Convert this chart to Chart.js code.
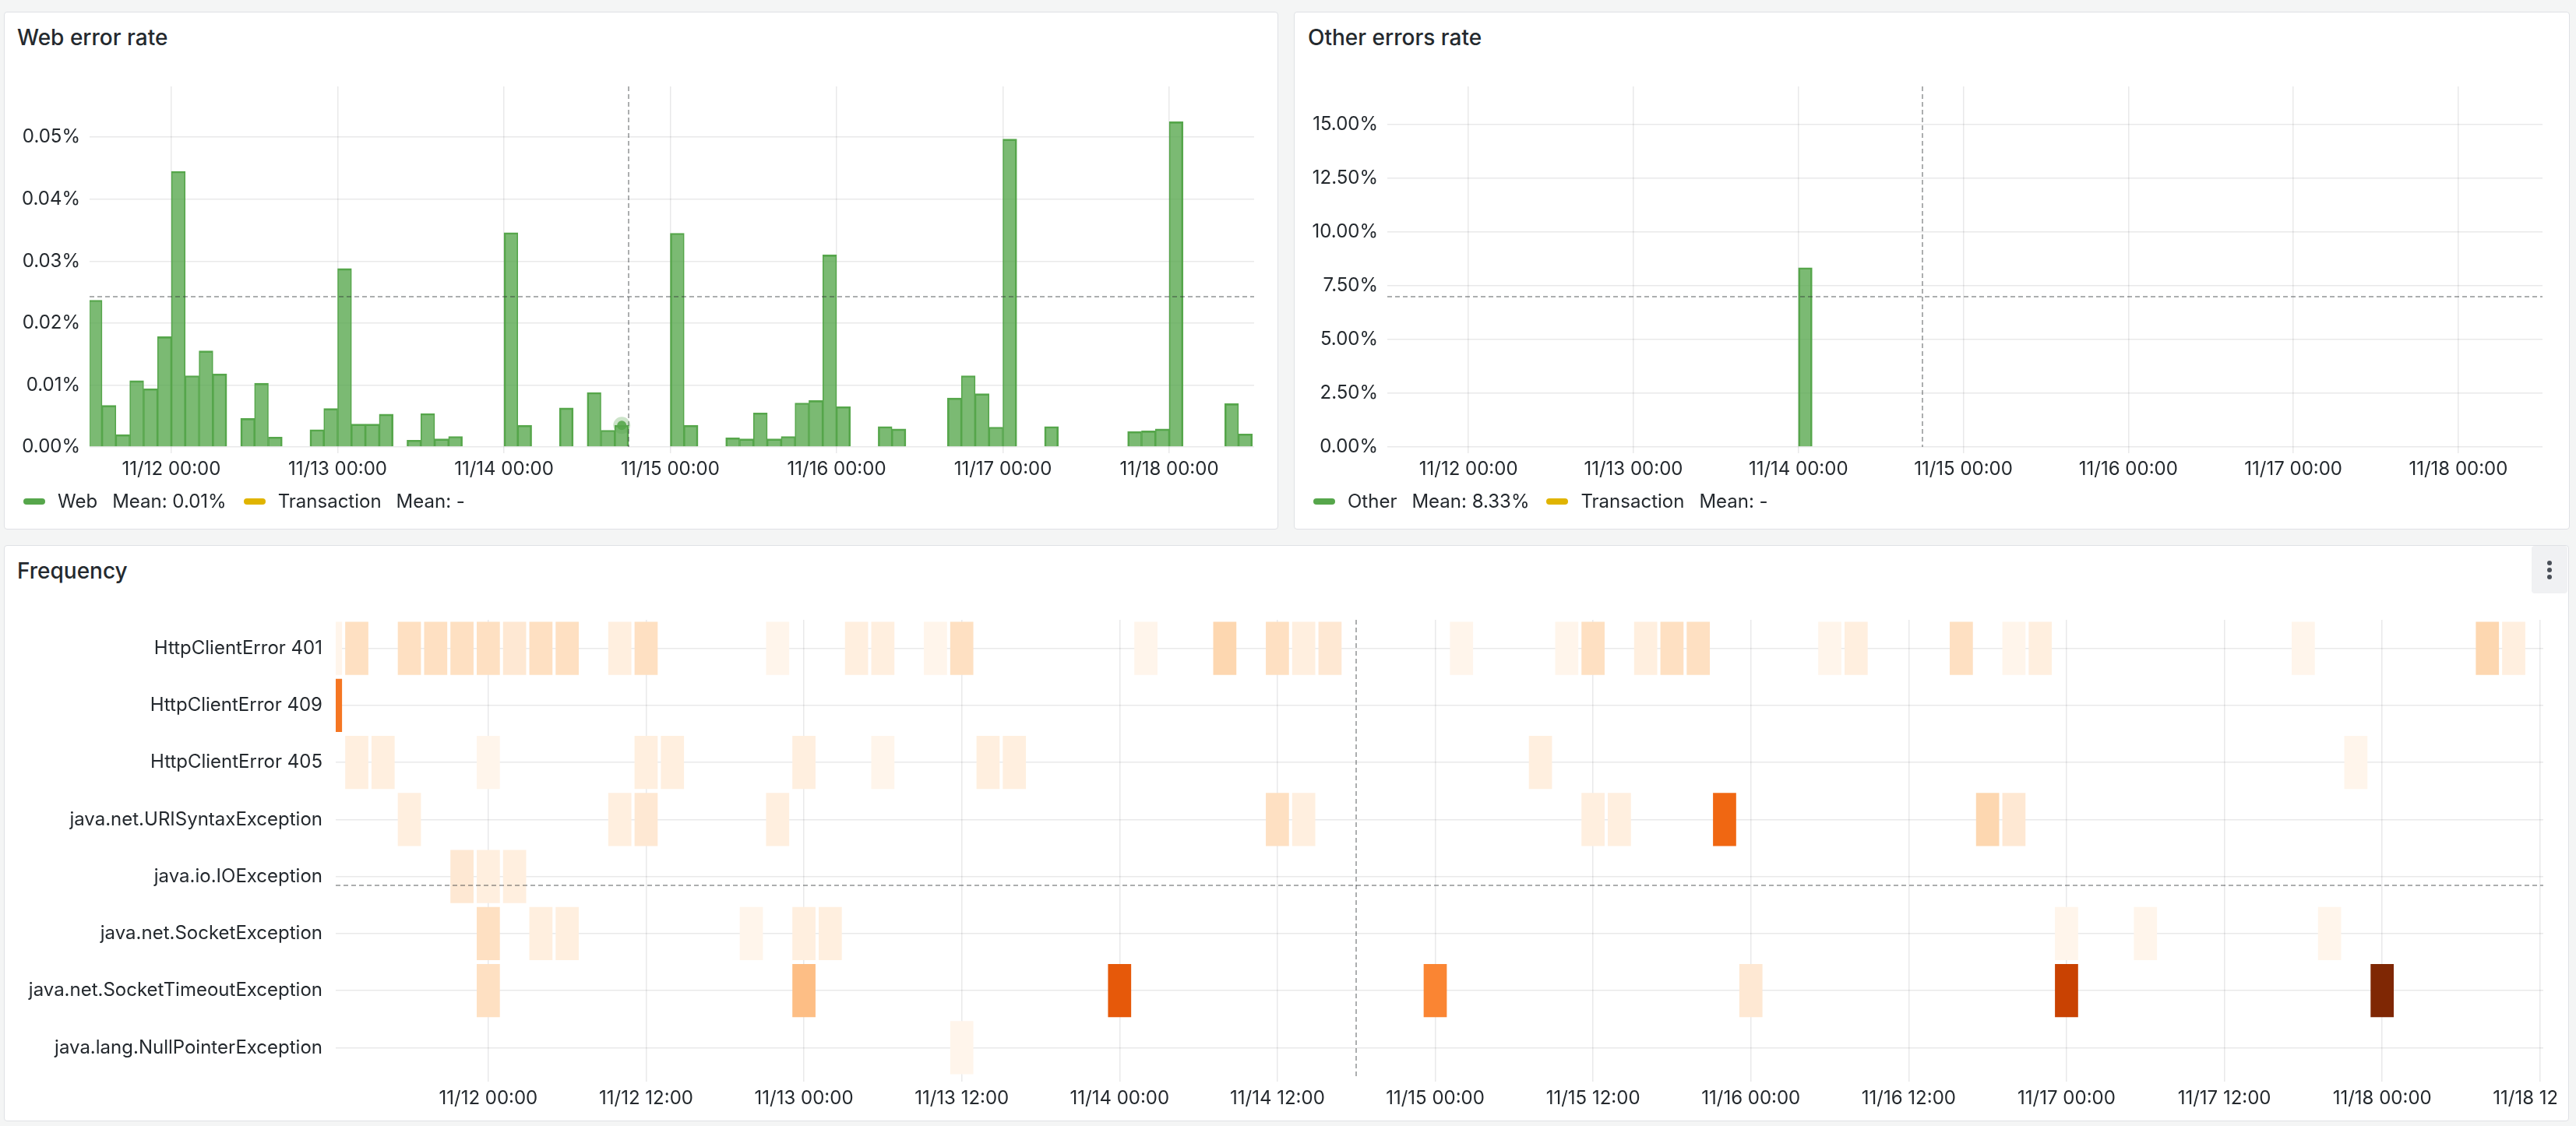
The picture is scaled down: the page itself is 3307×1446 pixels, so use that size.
<!DOCTYPE html>
<html>
<head>
<meta charset="utf-8">
<title>Errors dashboard</title>
<script src="https://cdn.jsdelivr.net/npm/chart.js@4.4.1/dist/chart.umd.min.js"></script>
<style>
  html, body { margin: 0; padding: 0; }
  body {
    width: 3307px; height: 1446px; position: relative; overflow: hidden;
    background: #f4f5f5; color: #24292e;
    font-family: Inter, "Noto Sans", sans-serif;
  }
  .panel { position: absolute; box-sizing: border-box; background: #fff; border: 1px solid #dfe1e5; border-radius: 4px; }
  .title { position: absolute; font-size: 28px; line-height: 28px; font-weight: 500; white-space: nowrap; }
  .legend { position: absolute; top: 632px; display: flex; align-items: center; font-size: 24px; line-height: 24px; white-space: nowrap; }
  .legend .mark { width: 28px; height: 8px; border-radius: 4px; margin-right: 16px; }
  .legend .mean { margin-left: 19px; margin-right: 22px; }
  canvas { position: absolute; }
  .menu { position: absolute; left: 3250px; top: 701px; width: 46px; height: 61px; background: #f0f1f3; border-radius: 4px; }
  .menu i { position: absolute; left: 20px; width: 6px; height: 6px; border-radius: 50%; background: #4a5058; }
</style>
</head>
<body>

<div class="panel" style="left:5px;top:15px;width:1636px;height:665px"></div>
<div class="panel" style="left:1661px;top:15px;width:1638px;height:665px"></div>
<div class="panel" style="left:5px;top:700px;width:3293px;height:740px"></div>

<div class="title" style="left:22px;top:34px">Web error rate</div>
<div class="title" style="left:1679px;top:34px">Other errors rate</div>
<div class="title" style="left:22px;top:719px">Frequency</div>

<canvas id="web" width="1636" height="620" style="left:5px;top:15px"></canvas>
<canvas id="other" width="1638" height="620" style="left:1661px;top:15px"></canvas>
<canvas id="freq" width="3277" height="740" style="left:5px;top:700px"></canvas>

<div class="legend" style="left:30px">
  <span class="mark" style="background:#56a64b"></span><span>Web</span><span class="mean" id="webMean"></span>
  <span class="mark" style="background:#e0b400"></span><span>Transaction</span><span class="mean">Mean: -</span>
</div>
<div class="legend" style="left:1686px">
  <span class="mark" style="background:#56a64b"></span><span>Other</span><span class="mean" id="otherMean"></span>
  <span class="mark" style="background:#e0b400"></span><span>Transaction</span><span class="mean">Mean: -</span>
</div>

<div class="menu"><i style="top:19px"></i><i style="top:28px"></i><i style="top:37px"></i></div>

<script>
// hours are counted from 11/12 00:00
const HOUR_MIN = -11.8;
const HOUR_MAX = 156.25;
const FREQ_HOUR_MIN = -11.6;

const dayTicks = [0, 24, 48, 72, 96, 120, 144];
const dayTickLabels = ['11/12 00:00', '11/13 00:00', '11/14 00:00', '11/15 00:00', '11/16 00:00', '11/17 00:00', '11/18 00:00'];
const halfDayTicks = [0, 12, 24, 36, 48, 60, 72, 84, 96, 108, 120, 132, 144, 156];
const halfDayTickLabels = ['11/12 00:00', '11/12 12:00', '11/13 00:00', '11/13 12:00', '11/14 00:00', '11/14 12:00',
  '11/15 00:00', '11/15 12:00', '11/16 00:00', '11/16 12:00', '11/17 00:00', '11/17 12:00', '11/18 00:00', '11/18 12:00'];

const webTicks = [0, 0.01, 0.02, 0.03, 0.04, 0.05];
const webTickLabels = ['0.00%', '0.01%', '0.02%', '0.03%', '0.04%', '0.05%'];
const otherTicks = [0, 2.5, 5, 7.5, 10, 12.5, 15];
const otherTickLabels = ['0.00%', '2.50%', '5.00%', '7.50%', '10.00%', '12.50%', '15.00%'];

// 2h buckets, first one starts at -12h (11/11 12:00); values in %
const bucketStart = -12;
const webRate = [
  0.0237, 0.0067, 0.0020, 0.0107, 0.0094, 0.0178,
  0.0445, 0.0115, 0.0155, 0.0118, null, 0.0046, 0.0103, 0.0016, null, null, 0.0028, 0.0062,
  0.0288, 0.0037, 0.0037, 0.0053, null, 0.0011, 0.0054, 0.0013, 0.0017, null, null, null,
  0.0346, 0.0035, null, null, 0.0063, null, 0.0088, 0.0027, 0.0035, null, null, null,
  0.0345, 0.0035, null, null, 0.0015, 0.0013, 0.0055, 0.0013, 0.0017, 0.0071, 0.0075, 0.0310,
  0.0065, null, null, 0.0033, 0.0029, null, null, null, 0.0079, 0.0115, 0.0086, 0.0032,
  0.0497, null, null, 0.0033, null, null, null, null, null, 0.0025, 0.0026, 0.0029,
  0.0525, null, null, null, 0.0070, 0.0021
];
const otherErrorHours = [48];
const otherErrorRate = [8.33];

// heatmap: [bucket centre hour, count]
const freqRows = ['HttpClientError 401', 'HttpClientError 409', 'HttpClientError 405', 'java.net.URISyntaxException',
  'java.io.IOException', 'java.net.SocketException', 'java.net.SocketTimeoutException', 'java.lang.NullPointerException'];
const http401 = [[-12, 1], [-10, 4], [-6, 4], [-4, 4], [-2, 4], [0, 4], [2, 3], [4, 4], [6, 4], [10, 2], [12, 4], [22, 1],
  [28, 2], [30, 2], [34, 1], [36, 4], [50, 1], [56, 5], [60, 4], [62, 2], [64, 3], [74, 1], [82, 1], [84, 4], [88, 2],
  [90, 4], [92, 4], [102, 1], [104, 2], [112, 4], [116, 1], [118, 2], [138, 1], [152, 5], [154, 2]];
const http409 = [[-12, 12]];
const http405 = [[-10, 2], [-8, 2], [0, 1], [12, 2], [14, 2], [24, 2], [30, 1], [38, 2], [40, 2], [80, 2], [142, 1]];
const uriSyntax = [[-6, 2], [10, 2], [12, 3], [22, 2], [60, 4], [62, 2], [84, 2], [86, 2], [94, 13], [114, 5], [116, 3]];
const ioException = [[-2, 3], [0, 2], [2, 2]];
const socketException = [[0, 4], [4, 2], [6, 2], [20, 1], [24, 2], [26, 2], [120, 1], [126, 1], [140, 1]];
const socketTimeout = [[0, 4], [24, 7], [48, 14], [72, 11], [96, 3], [120, 16], [144, 20]];
const nullPointer = [[36, 1]];
const freqMin = 1;
const freqMax = 20;

// shared cursor as in the screenshot
const cursorHour = 66;
const hoverBucket = 64;

// ---- styling
const gridColor = 'rgba(36,41,46,0.1)';
const green = '#56a64b';
const orangeStops = ['#fff5eb', '#fee6ce', '#fdd0a2', '#fdae6b', '#fd8d3c', '#f16913', '#d94801', '#a63603', '#7f2704'];
const CELL_GAP = 0.12;

Chart.defaults.font.family = 'Inter, "Noto Sans", sans-serif';
Chart.defaults.font.size = 24;
Chart.defaults.color = '#24292e';
Chart.defaults.animation = false;

function hexRgb(h) {
  return [1, 3, 5].map(i => parseInt(h.slice(i, i + 2), 16));
}

function orange(count) {
  const t = Math.min(1, Math.max(0, (count - freqMin) / (freqMax - freqMin)));
  const p = t * (orangeStops.length - 1);
  const i = Math.min(Math.floor(p), orangeStops.length - 2);
  const f = p - i;
  const a = hexRgb(orangeStops[i]), b = hexRgb(orangeStops[i + 1]);
  const c = a.map((v, k) => Math.round(v + (b[k] - v) * f));
  return `rgb(${c[0]},${c[1]},${c[2]})`;
}

function mean(values) {
  const v = values.filter(x => x != null);
  return v.reduce((s, x) => s + x, 0) / v.length;
}

const crosshair = {
  id: 'crosshair',
  afterDatasetsDraw(chart, args, opts) {
    if (opts.hour == null) return;
    const { ctx, chartArea: a, scales: { x, y } } = chart;
    ctx.save();
    ctx.strokeStyle = 'rgba(36,41,46,0.38)';
    ctx.lineWidth = 2;
    ctx.setLineDash([6, 4]);
    const px = Math.round(x.getPixelForValue(opts.hour));
    ctx.beginPath();
    ctx.moveTo(px, a.top);
    ctx.lineTo(px, a.bottom);
    ctx.stroke();
    const py = Math.round(y.getPixelForValue(opts.value));
    ctx.beginPath();
    ctx.moveTo(a.left, py);
    ctx.lineTo(a.right, py);
    ctx.stroke();
    ctx.restore();
  }
};

const hoverDot = {
  id: 'hoverDot',
  afterDatasetsDraw(chart, args, opts) {
    if (opts.index == null) return;
    const el = chart.getDatasetMeta(0).data[opts.index];
    if (!el) return;
    const { ctx } = chart;
    ctx.save();
    ctx.fillStyle = 'rgba(86,166,75,0.3)';
    ctx.beginPath();
    ctx.arc(el.x, el.y, 11, 0, Math.PI * 2);
    ctx.fill();
    ctx.fillStyle = 'rgba(86,166,75,0.9)';
    ctx.beginPath();
    ctx.arc(el.x, el.y, 6, 0, Math.PI * 2);
    ctx.fill();
    ctx.restore();
  }
};

function hoursAxis(min, ticks, labels, tickLength, pad) {
  return {
    type: 'linear', min: min, max: HOUR_MAX, offset: false,
    afterBuildTicks: s => { s.ticks = ticks.map(v => ({ value: v })); },
    afterFit: s => { s.height = 50; s.paddingLeft = 0; s.paddingRight = 0; },
    ticks: { padding: pad, maxRotation: 0, autoSkip: false, callback: v => labels[ticks.indexOf(v)] },
    grid: { color: gridColor, lineWidth: 1.5, drawTicks: true, tickLength: tickLength, offset: false },
    border: { display: false }
  };
}

function valueAxis(max, ticks, labels, width) {
  return {
    type: 'linear', min: 0, max: max,
    afterBuildTicks: s => { s.ticks = ticks.map(v => ({ value: v })); },
    afterFit: s => { s.width = width; s.paddingTop = 0; s.paddingBottom = 0; },
    ticks: { padding: 12, callback: v => labels[ticks.indexOf(v)] },
    grid: { color: gridColor, lineWidth: 1.5, drawTicks: false },
    border: { display: false }
  };
}

function barBorder(ctx) {
  const d = ctx.dataset.data, i = ctx.dataIndex;
  const prev = i > 0 && d[i - 1].y != null;
  const next = i < d.length - 1 && d[i + 1].y != null;
  return { top: 2, left: prev ? 1 : 2, right: next ? 1 : 2, bottom: 0 };
}

function barChart(id, points, yAxis, padding, plugins) {
  return new Chart(document.getElementById(id), {
    type: 'bar',
    data: {
      datasets: [{
        data: points,
        backgroundColor: 'rgba(86,166,75,0.78)',
        borderColor: green,
        borderWidth: barBorder,
        borderSkipped: 'start',
        barPercentage: 1,
        categoryPercentage: 1
      }]
    },
    options: {
      responsive: false,
      devicePixelRatio: 1,
      layout: { padding: padding },
      scales: { x: hoursAxis(HOUR_MIN, dayTicks, dayTickLabels, 8, 6), y: yAxis },
      plugins: Object.assign({ legend: { display: false }, tooltip: { enabled: false } }, plugins)
    },
    plugins: [crosshair, hoverDot]
  });
}

// web error rate
const webPoints = webRate.map((v, i) => ({ x: bucketStart + i * 2 + 1, y: v }));
barChart('web', webPoints, valueAxis(0.0582, webTicks, webTickLabels, 110),
  { left: 0, top: 96, right: 31, bottom: 11 },
  { crosshair: { hour: cursorHour, value: 0.0242 }, hoverDot: { index: (hoverBucket - bucketStart) / 2 } });
document.getElementById('webMean').textContent = 'Mean: ' + mean(webRate).toFixed(2) + '%';

// other errors rate
const otherPoints = webRate.map((v, i) => {
  const start = bucketStart + i * 2;
  const k = otherErrorHours.indexOf(start);
  return { x: start + 1, y: k >= 0 ? otherErrorRate[k] : null };
});
barChart('other', otherPoints, valueAxis(16.75, otherTicks, otherTickLabels, 120),
  { left: 0, top: 96, right: 35, bottom: 11 },
  { crosshair: { hour: cursorHour, value: 7.0 }, hoverDot: {} });
document.getElementById('otherMean').textContent = 'Mean: ' + mean(otherErrorRate).toFixed(2) + '%';

// frequency heatmap
const freqSeries = [http401, http409, http405, uriSyntax, ioException, socketException, socketTimeout, nullPointer];
const cells = [];
freqSeries.forEach((row, r) => row.forEach(([h, c]) => {
  cells.push({ y: freqRows[r], x: [h - 1 + CELL_GAP, h + 1 - CELL_GAP], count: c });
}));

new Chart(document.getElementById('freq'), {
  type: 'bar',
  data: {
    labels: freqRows,
    datasets: [{
      data: cells,
      backgroundColor: ctx => orange(ctx.raw.count),
      borderWidth: 0,
      barPercentage: 0.935,
      categoryPercentage: 1
    }]
  },
  options: {
    indexAxis: 'y',
    responsive: false,
    devicePixelRatio: 1,
    layout: { padding: { left: 0, top: 96, right: 17, bottom: 8 } },
    scales: {
      x: hoursAxis(FREQ_HOUR_MIN, halfDayTicks, halfDayTickLabels, 7, 7),
      y: {
        type: 'category', offset: true,
        afterFit: s => { s.width = 426; s.paddingTop = 0; s.paddingBottom = 0; },
        ticks: { padding: 17, autoSkip: false },
        grid: { color: gridColor, lineWidth: 1.5, drawTicks: false, offset: false },
        border: { display: false }
      }
    },
    plugins: {
      legend: { display: false },
      tooltip: { enabled: false },
      crosshair: { hour: cursorHour, value: 4.15 },
      hoverDot: {}
    }
  },
  plugins: [crosshair, hoverDot]
});
</script>
</body>
</html>
